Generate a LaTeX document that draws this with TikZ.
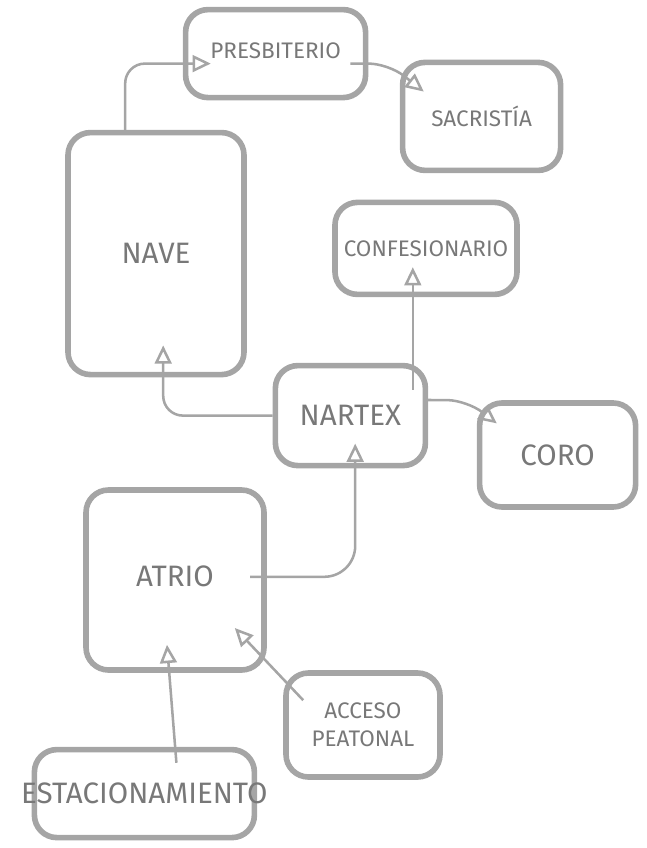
\documentclass[tikz,border=0pt]{standalone}
\usepackage{fontspec}
\setmainfont{Fira Sans}
\usepackage{tikz}
\usetikzlibrary{arrows.meta,positioning}
\definecolor{plano@line}{RGB}{165,165,165}
\definecolor{plano@text}{RGB}{120,120,120}
\tikzset{
  plano/.style={
    >={Triangle[open,length=13pt,width=12pt]},
    line width=1.6pt,
    every node/.style={font=\fontsize{16}{20}\selectfont}
  },
  room/.style={                   % sketched room box
    draw=plano@line, line width=4pt,
    rounded corners=16pt,
    text=plano@text,
    align=center,
    inner sep=0pt
  },
  bigroom/.style={                % room with large lettering
    room,
    font=\fontsize{21}{24}\selectfont
  },
  link/.style={->, draw=plano@line, line width=1.8pt, rounded corners=14pt}
}

\begin{document}
\begin{tikzpicture}[plano]
\useasboundingbox (0,0) rectangle (16.175,-21.2);

% Upper rooms
\node[room, minimum width=4.5cm, minimum height=2.2cm]
  (presb) at (6.89,-1.34) {\raisebox{4pt}{PRESBITERIO}};
\node[room, minimum width=3.95cm, minimum height=2.7cm]
  (sacr) at (12.04,-2.91) {SACRISTÍA};

% Nave on the left
\node[bigroom, minimum width=4.4cm, minimum height=6.05cm]
  (nave) at (3.9,-6.34) {NAVE};

% Confessional
\node[room, minimum width=4.55cm, minimum height=2.3cm]
  (conf) at (10.65,-6.21) {CONFESIONARIO};

% Narthex and choir
\node[bigroom, minimum width=3.75cm, minimum height=2.5cm]
  (nartex) at (8.76,-10.39) {\raisebox{-10pt}{NARTEX}};
\node[bigroom, minimum width=3.9cm, minimum height=2.6cm]
  (coro) at (13.94,-11.375) {CORO};

% Atrium
\node[bigroom, minimum width=4.45cm, minimum height=4.5cm]
  (atrio) at (4.375,-14.5) {\raisebox{6pt}{ATRIO}};

% Entrances at the bottom
\node[room, minimum width=3.85cm, minimum height=2.6cm]
  (acceso) at (9.075,-18.125) {ACCESO\\PEATONAL};
\node[bigroom, minimum width=5.5cm, minimum height=2.2cm]
  (estac) at (3.61,-19.84) {\makebox[0pt]{\raisebox{-8pt}{ESTACIONAMIENTO}}};

% Connections between rooms
\draw[link] ([xshift=1.5cm]nave.north west)
  |- ([xshift=0.7cm,yshift=-0.25cm]presb.west);
\draw[link] ([xshift=-0.45cm,yshift=-0.25cm]presb.east)
  -- ([xshift=0.5cm,yshift=-0.25cm]presb.east)
  -- ([xshift=0.6cm,yshift=-0.8cm]sacr.north west);
\draw[link] ([xshift=1.56cm,yshift=-0.68cm]nartex.north)
  -- ([xshift=-0.33cm,yshift=0.75cm]conf.south);
\draw[link] (nartex.west)
  -| ([xshift=0.18cm,yshift=0.8cm]nave.south);
\draw[link] ([yshift=0.39cm]nartex.east)
  -- ([xshift=-0.25cm]coro.north west)
  -- ([xshift=0.5cm,yshift=-0.58cm]coro.north west);
\draw[link, rounded corners=22pt] ([xshift=-0.42cm,yshift=0.08cm]atrio.east)
  -| ([xshift=0.12cm,yshift=0.62cm]nartex.south);
\draw[link] ([xshift=0.5cm,yshift=-0.75cm]acceso.north west)
  -- ([xshift=-0.8cm,yshift=1.12cm]atrio.south east);
\draw[link] ([xshift=0.8cm,yshift=-0.4cm]estac.north)
  -- ([xshift=-0.2cm,yshift=0.7cm]atrio.south);

\end{tikzpicture}
\end{document}
